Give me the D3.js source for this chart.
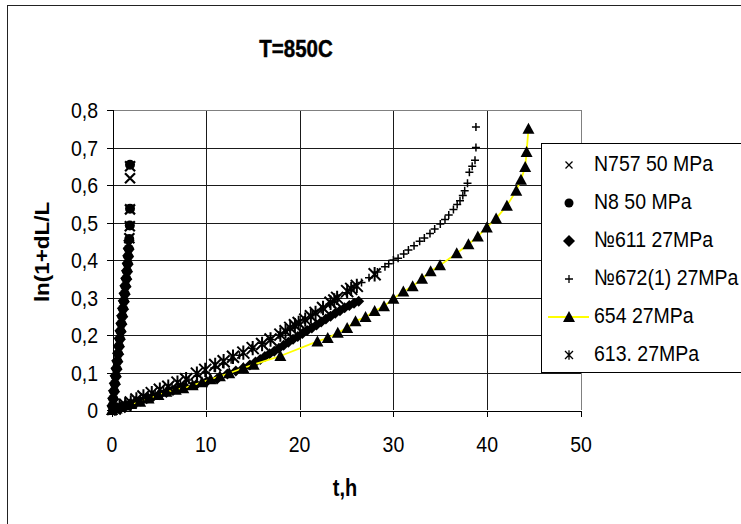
<!DOCTYPE html>
<html>
<head>
<meta charset="utf-8">
<script src="https://cdn.jsdelivr.net/npm/d3@7"></script>
<style>
  body { margin: 0; background: #fff; }
  text { font-family: "Liberation Sans", Arial, sans-serif; fill: #000; }
</style>
</head>
<body>
<svg id="chart" width="741" height="524"></svg>
<script>
// Creep curves at T = 850 C: time t (h) against ln(1 + dL/L)
const chartTitle = "T=850C";
const xTitle = "t,h";
const yTitle = "ln(1+dL/L";
const xTicks = [0, 10, 20, 30, 40, 50];
const yTicks = [0, 0.1, 0.2, 0.3, 0.4, 0.5, 0.6, 0.7, 0.8];
const yTickLabels = ["0", "0,1", "0,2", "0,3", "0,4", "0,5", "0,6", "0,7", "0,8"];
const seriesNames = ["N757 50 MPa", "N8 50 MPa", "№611 27MPa", "№672(1) 27MPa", "654 27MPa", "613. 27MPa"];

// [t, ln(1+dL/L)] pairs per specimen
const n757 = [[0.02,0.0],[0.09,0.02],[0.17,0.04],[0.26,0.06],[0.35,0.08],[0.44,0.1],[0.52,0.12],[0.61,0.14],
  [0.7,0.16],[0.78,0.18],[0.87,0.2],[0.96,0.22],[1.04,0.24],[1.13,0.26],[1.22,0.28],[1.3,0.3],[1.39,0.32],
  [1.48,0.34],[1.56,0.36],[1.64,0.38],[1.7,0.4],[1.75,0.42],[1.8,0.44],[1.85,0.458],[1.9,0.49],[1.92,0.535],
  [1.92,0.618],[1.93,0.65]];
const n8 = [[0.05,0.01],[0.13,0.03],[0.22,0.05],[0.3,0.07],[0.39,0.09],[0.48,0.11],[0.57,0.13],[0.65,0.15],
  [0.74,0.17],[0.83,0.19],[0.91,0.21],[1.0,0.23],[1.09,0.25],[1.17,0.27],[1.26,0.29],[1.35,0.31],[1.43,0.33],
  [1.52,0.35],[1.6,0.37],[1.67,0.39],[1.72,0.41],[1.78,0.43],[1.84,0.456],[1.9,0.492],[1.92,0.537],[1.92,0.654]];
const s611 = [[0.2,0.002],[0.6,0.006],[1.0,0.009],[1.5,0.012],[2.0,0.015],[2.5,0.019],[3.0,0.024],[3.7,0.03],
  [4.4,0.036],[5.1,0.041],[5.8,0.047],[6.5,0.052],[7.2,0.058],[7.8,0.062],[9.0,0.068],[10.1,0.076],[11.2,0.083],
  [12.3,0.096],[13.2,0.104],[14.0,0.112],[14.7,0.12],[15.3,0.128],[15.8,0.135],[16.3,0.143],[16.8,0.15],
  [17.3,0.157],[17.8,0.165],[18.3,0.173],[18.8,0.181],[19.3,0.189],[19.8,0.196],[20.3,0.204],[20.8,0.212],
  [21.3,0.219],[21.8,0.227],[22.3,0.235],[22.8,0.243],[23.3,0.25],[23.8,0.258],[24.3,0.265],[24.8,0.273],
  [25.3,0.279],[25.8,0.285],[26.3,0.29]];
const s672 = [[0.0,0.0],[0.5,0.004],[1.0,0.008],[1.6,0.013],[2.3,0.02],[3.0,0.027],[3.8,0.035],[4.6,0.043],
  [5.5,0.052],[6.4,0.061],[7.3,0.07],[8.2,0.08],[9.1,0.09],[10.0,0.101],[10.9,0.112],[11.8,0.123],[12.7,0.134],
  [13.6,0.146],[14.9,0.165],[16.0,0.178],[16.9,0.188],[17.8,0.2],[18.7,0.213],[19.6,0.227],[20.5,0.24],
  [21.4,0.254],[22.3,0.268],[23.2,0.283],[24.1,0.298],[25.0,0.313],[25.8,0.326],[26.6,0.34],[27.4,0.353],
  [28.3,0.368],[29.1,0.382],[29.5,0.39],[30.0,0.4],[30.5,0.405],[31.1,0.416],[31.6,0.427],[32.2,0.438],
  [32.8,0.45],[33.3,0.459],[33.9,0.471],[34.4,0.483],[35.0,0.496],[35.5,0.508],[35.9,0.52],[36.4,0.535],
  [36.8,0.548],[37.1,0.558],[37.4,0.572],[37.6,0.585],[37.9,0.605],[38.1,0.634],[38.4,0.65],[38.7,0.666],
  [38.8,0.7],[38.8,0.755]];
const s654 = [[0.0,0.0],[0.5,0.004],[1.0,0.008],[1.5,0.012],[2.0,0.016],[3.0,0.022],[3.9,0.031],[4.95,0.04],
  [5.8,0.049],[6.8,0.054],[7.6,0.058],[8.6,0.066],[9.6,0.074],[10.5,0.082],[11.5,0.09],[12.5,0.098],[14.0,0.112],
  [15.1,0.121],[17.95,0.144],[21.9,0.183],[23.0,0.192],[24.07,0.206],[25.07,0.219],[25.96,0.237],[27.03,0.248],
  [28.0,0.264],[29.0,0.277],[30.0,0.297],[31.06,0.316],[32.05,0.33],[33.05,0.35],[33.97,0.37],[34.97,0.386],
  [36.75,0.418],[38.0,0.442],[39.0,0.463],[39.96,0.487],[40.95,0.511],[42.1,0.545],[43.1,0.585],[43.6,0.614],
  [44.05,0.648],[44.2,0.688],[44.4,0.75]];
const s613 = [[0.3,0.004],[0.8,0.009],[1.4,0.014],[2.0,0.02],[2.6,0.028],[3.35,0.036],[4.24,0.045],[5.1,0.054],
  [6.0,0.062],[6.98,0.073],[7.9,0.082],[9.05,0.097],[9.94,0.107],[11.0,0.12],[11.9,0.13],[12.9,0.142],
  [14.0,0.153],[15.0,0.165],[16.0,0.176],[16.9,0.188],[17.95,0.201],[18.5,0.21],[19.0,0.219],[19.5,0.226],
  [19.9,0.232],[20.6,0.241],[21.2,0.25],[21.7,0.259],[22.5,0.272],[23.3,0.286],[23.7,0.292],[24.0,0.299],
  [25.07,0.317],[25.5,0.323],[26.1,0.331],[28.0,0.362]];

const svg = d3.select("#chart");
const TEXT_SY = 1.15; // glyphs are a little taller than wide

// Outer chart frame (runs past the right and bottom edges)
svg.append("rect").attr("x", 7.5).attr("y", 5.5).attr("width", 800).attr("height", 600)
  .attr("fill", "#fff").attr("stroke", "#222").attr("stroke-width", 1);

const x = d3.scaleLinear().domain([0, 50]).range([112, 581]);
const y = d3.scaleLinear().domain([0, 0.8]).range([410, 110]);

function label(g, px, py, s, anchor, size, bold) {
  return g.append("text")
    .attr("transform", `translate(${px},${py}) scale(1,${TEXT_SY})`)
    .attr("text-anchor", anchor)
    .attr("font-size", size)
    .attr("font-weight", bold ? "bold" : "normal")
    .text(s);
}

// Grid
const grid = svg.append("g").attr("shape-rendering", "crispEdges");
grid.selectAll("line.h").data(yTicks.filter(v => v > 0 && v < 0.8)).join("line")
  .attr("x1", x(0)).attr("x2", x(50)).attr("y1", d => Math.round(y(d)) + 0.5).attr("y2", d => Math.round(y(d)) + 0.5)
  .attr("stroke", "#1a1a1a");
grid.selectAll("line.v").data(xTicks.filter(v => v > 0 && v < 50)).join("line")
  .attr("y1", y(0)).attr("y2", y(0.8)).attr("x1", d => Math.round(x(d)) + 0.5).attr("x2", d => Math.round(x(d)) + 0.5)
  .attr("stroke", "#1a1a1a");
// Plot area border (top/right)
grid.append("path")
  .attr("d", `M${x(0)},${y(0.8) + 0.5}H${x(50) + 0.5}V${y(0)}`)
  .attr("fill", "none").attr("stroke", "#808080");

// Axes
const xAxis = d3.axisBottom(x).tickValues(xTicks).tickSize(6).tickFormat("");
const yAxis = d3.axisLeft(y).tickValues(yTicks).tickSize(6).tickFormat("");
const gx = svg.append("g").attr("transform", `translate(0,${y(0) + 0.5})`).call(xAxis);
const gy = svg.append("g").attr("transform", `translate(${x(0) + 0.5},0)`).call(yAxis);
[gx, gy].forEach(g => {
  g.select(".domain").attr("stroke", "#000").attr("shape-rendering", "crispEdges");
  g.selectAll(".tick line").attr("stroke", "#000").attr("shape-rendering", "crispEdges");
});
const tickLabels = svg.append("g");
xTicks.forEach(v => label(tickLabels, x(v), 452, String(v), "middle", 19.5, false));
yTicks.forEach((v, i) => label(tickLabels, 98, y(v) + 8, yTickLabels[i], "end", 19.5, false));

// Titles
label(svg, 296, 57, chartTitle, "middle", 20.5, true).attr("stroke", "#000").attr("stroke-width", 0.4);
label(svg, 345, 496, xTitle, "middle", 20, true);
svg.append("text")
  .attr("transform", `translate(49,252) scale(1,${TEXT_SY}) rotate(-90)`)
  .attr("text-anchor", "middle").attr("font-size", 19.5).attr("font-weight", "bold")
  .text(yTitle);

// Marker shapes
const symX = { draw(c, size) { const r = Math.sqrt(size) / 2; c.moveTo(-r, -r); c.lineTo(r, r); c.moveTo(-r, r); c.lineTo(r, -r); } };
const symPlus = { draw(c, size) { const r = Math.sqrt(size) / 2; c.moveTo(-r, 0); c.lineTo(r, 0); c.moveTo(0, -r); c.lineTo(0, r); } };
const symStar = { draw(c, size) { const r = Math.sqrt(size) / 2; c.moveTo(-r, -r); c.lineTo(r, r); c.moveTo(-r, r); c.lineTo(r, -r); c.moveTo(0, -r * 1.2); c.lineTo(0, r * 1.2); } };
const symTri = { draw(c, size) { const r = Math.sqrt(size) / 2; c.moveTo(0, -r); c.lineTo(r, r * 0.85); c.lineTo(-r, r * 0.85); c.closePath(); } };
const symDia = { draw(c, size) { const r = Math.sqrt(size) / 2; c.moveTo(0, -r); c.lineTo(r, 0); c.lineTo(0, r); c.lineTo(-r, 0); c.closePath(); } };
const symDot = { draw(c, size) { const r = Math.sqrt(size) / 2; c.moveTo(r, 0); c.arc(0, 0, r, 0, 2 * Math.PI); } };

const series = [
  { data: n757, type: symX, w: 10, stroke: true, sw: 2.2 },
  { data: n8, type: symDot, w: 10, stroke: false },
  { data: s611, type: symDia, w: 11, stroke: false },
  { data: s672, type: symPlus, w: 8, stroke: true, sw: 1.5 },
  { data: s654, type: symTri, w: 12, stroke: false, line: "#ffff00" },
  { data: s613, type: symStar, w: 12, stroke: true, sw: 2 }
];
const legendSize = [7, 9, 12, 8, 12, 8];

const plot = svg.append("g");
series.forEach(s => {
  if (s.line) {
    plot.append("path").datum(s.data)
      .attr("d", d3.line().x(d => x(d[0])).y(d => y(d[1])))
      .attr("fill", "none").attr("stroke", s.line).attr("stroke-width", 1.8);
  }
  const sym = d3.symbol().type(s.type).size(s.w * s.w);
  plot.append("g").selectAll("path").data(s.data).join("path")
    .attr("transform", d => `translate(${x(d[0])},${y(d[1])})`)
    .attr("d", sym)
    .attr("fill", s.stroke ? "none" : "#000")
    .attr("stroke", s.stroke ? "#000" : "none")
    .attr("stroke-width", s.sw || 0);
});

// Legend
const legend = svg.append("g");
legend.append("rect").attr("x", 541.5).attr("y", 143.5).attr("width", 260).attr("height", 229)
  .attr("fill", "#fff").attr("stroke", "#000");
const rowY = [165, 203, 241, 279, 317, 355];
seriesNames.forEach((name, i) => {
  const s = series[i];
  if (s.line) {
    legend.append("line").attr("x1", 548).attr("x2", 589).attr("y1", rowY[i]).attr("y2", rowY[i])
      .attr("stroke", s.line).attr("stroke-width", 1.8);
  }
  legend.append("path")
    .attr("transform", `translate(569,${rowY[i]})`)
    .attr("d", d3.symbol().type(s.type).size(legendSize[i] * legendSize[i]))
    .attr("fill", s.stroke ? "none" : "#000")
    .attr("stroke", s.stroke ? "#000" : "none")
    .attr("stroke-width", s.stroke ? 1.3 : 0);
  label(legend, 594, rowY[i] + 6, name, "start", 19.5, false);
});
</script>
</body>
</html>
